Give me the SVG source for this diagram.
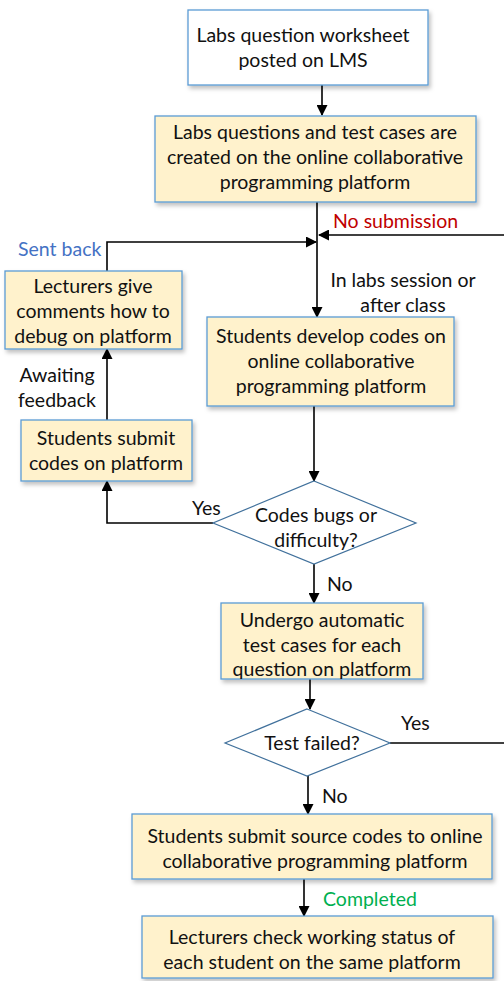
<svg xmlns="http://www.w3.org/2000/svg" width="504" height="981" viewBox="0 0 504 981">
<style>
.box{fill:#FFF2CC;stroke:#5B9BD5;stroke-width:1.3;filter:url(#sh)}
.wbox{fill:#FFFFFF;stroke:#5B9BD5;stroke-width:1.3;filter:url(#sh)}
.dia{fill:#FFFFFF;stroke:#41719C;stroke-width:1.2}
.t{font-family:Lato,"Liberation Sans",sans-serif;font-size:19.5px;fill:#111;text-anchor:middle}
.lbl{font-family:Lato,"Liberation Sans",sans-serif;font-size:19.5px;fill:#111}
.ln{fill:none;stroke:#000;stroke-width:1.6}
</style>
<defs>
<filter id="sh" x="-10%" y="-10%" width="125%" height="130%">
<feDropShadow dx="2" dy="3" stdDeviation="2" flood-color="#000" flood-opacity="0.25"/>
</filter>
<marker id="ar" markerWidth="11" markerHeight="11" refX="10" refY="5.5" orient="auto" markerUnits="userSpaceOnUse">
<path d="M0,0 L11,5.5 L0,11 z" fill="#000"/>
</marker>
</defs>
<g id="connectors">
<line class="ln" x1="322" y1="85" x2="322" y2="115" marker-end="url(#ar)"/>
<line class="ln" x1="317" y1="202" x2="317" y2="317" marker-end="url(#ar)"/>
<line class="ln" x1="504" y1="235" x2="319" y2="235" marker-end="url(#ar)"/>
<polyline class="ln" points="107,271 107,242 316,242" marker-end="url(#ar)"/>
<line class="ln" x1="107" y1="420" x2="107" y2="349" marker-end="url(#ar)"/>
<line class="ln" x1="314" y1="406" x2="314" y2="481" marker-end="url(#ar)"/>
<polyline class="ln" points="213,523 107,523 107,481" marker-end="url(#ar)"/>
<line class="ln" x1="314" y1="564" x2="314" y2="603" marker-end="url(#ar)"/>
<line class="ln" x1="310" y1="679" x2="310" y2="709" marker-end="url(#ar)"/>
<line class="ln" x1="390" y1="743" x2="504" y2="743"/>
<line class="ln" x1="308" y1="776" x2="308" y2="814" marker-end="url(#ar)"/>
<line class="ln" x1="304" y1="879" x2="304" y2="916" marker-end="url(#ar)"/>
<text class="lbl" x="333" y="228" style="fill:#C00000">No submission</text>
<text class="lbl" x="18" y="256" style="fill:#4472C4">Sent back</text>
<text class="t" x="403" y="287">In labs session or</text>
<text class="t" x="403" y="312">after class</text>
<text class="t" x="57" y="382">Awaiting</text>
<text class="t" x="57" y="407">feedback</text>
<text class="lbl" x="192" y="515">Yes</text>
<text class="lbl" x="327" y="591">No</text>
<text class="lbl" x="401" y="730">Yes</text>
<text class="lbl" x="322" y="803">No</text>
<text class="lbl" x="323" y="906" style="fill:#00B050">Completed</text>
</g>
<g id="n1"><rect class="wbox" x="188" y="10" width="240" height="75"/>
<text class="t" x="303" y="42">Labs question worksheet</text>
<text class="t" x="303" y="67">posted on LMS</text></g>
<g id="n2"><rect class="box" x="155" y="116" width="321" height="86"/>
<text class="t" x="315" y="139">Labs questions and test cases are</text>
<text class="t" x="315" y="164">created on the online collaborative</text>
<text class="t" x="315" y="189">programming platform</text></g>
<g id="n3"><rect class="box" x="5" y="271" width="177" height="78"/>
<text class="t" x="93" y="293">Lecturers give</text>
<text class="t" x="93" y="318">comments how to</text>
<text class="t" x="93" y="343">debug on platform</text></g>
<g id="n4"><rect class="box" x="207" y="317" width="247" height="89"/>
<text class="t" x="331" y="343">Students develop codes on</text>
<text class="t" x="331" y="368">online collaborative</text>
<text class="t" x="331" y="393">programming platform</text></g>
<g id="n5"><rect class="box" x="21" y="420" width="171" height="61"/>
<text class="t" x="106" y="445">Students submit</text>
<text class="t" x="106" y="470">codes on platform</text></g>
<g id="n6"><polygon class="dia" points="314,481 416,523 314,564 213,523"/>
<text class="t" x="316" y="522">Codes bugs or</text>
<text class="t" x="316" y="547">difficulty?</text></g>
<g id="n7"><rect class="box" x="221" y="603" width="202" height="76"/>
<text class="t" x="322" y="627">Undergo automatic</text>
<text class="t" x="322" y="652">test cases for each</text>
<text class="t" x="322" y="676">question on platform</text></g>
<g id="n8"><polygon class="dia" points="307,709 390,743 307,776 225,743"/>
<text class="t" x="312" y="750">Test failed?</text></g>
<g id="n9"><rect class="box" x="132" y="814" width="360" height="65"/>
<text class="t" x="315" y="843">Students submit source codes to online</text>
<text class="t" x="315" y="868">collaborative programming platform</text></g>
<g id="n10"><rect class="box" x="142" y="916" width="351" height="62"/>
<text class="t" x="312" y="944">Lecturers check working status of</text>
<text class="t" x="312" y="969">each student on the same platform</text></g>
</svg>
